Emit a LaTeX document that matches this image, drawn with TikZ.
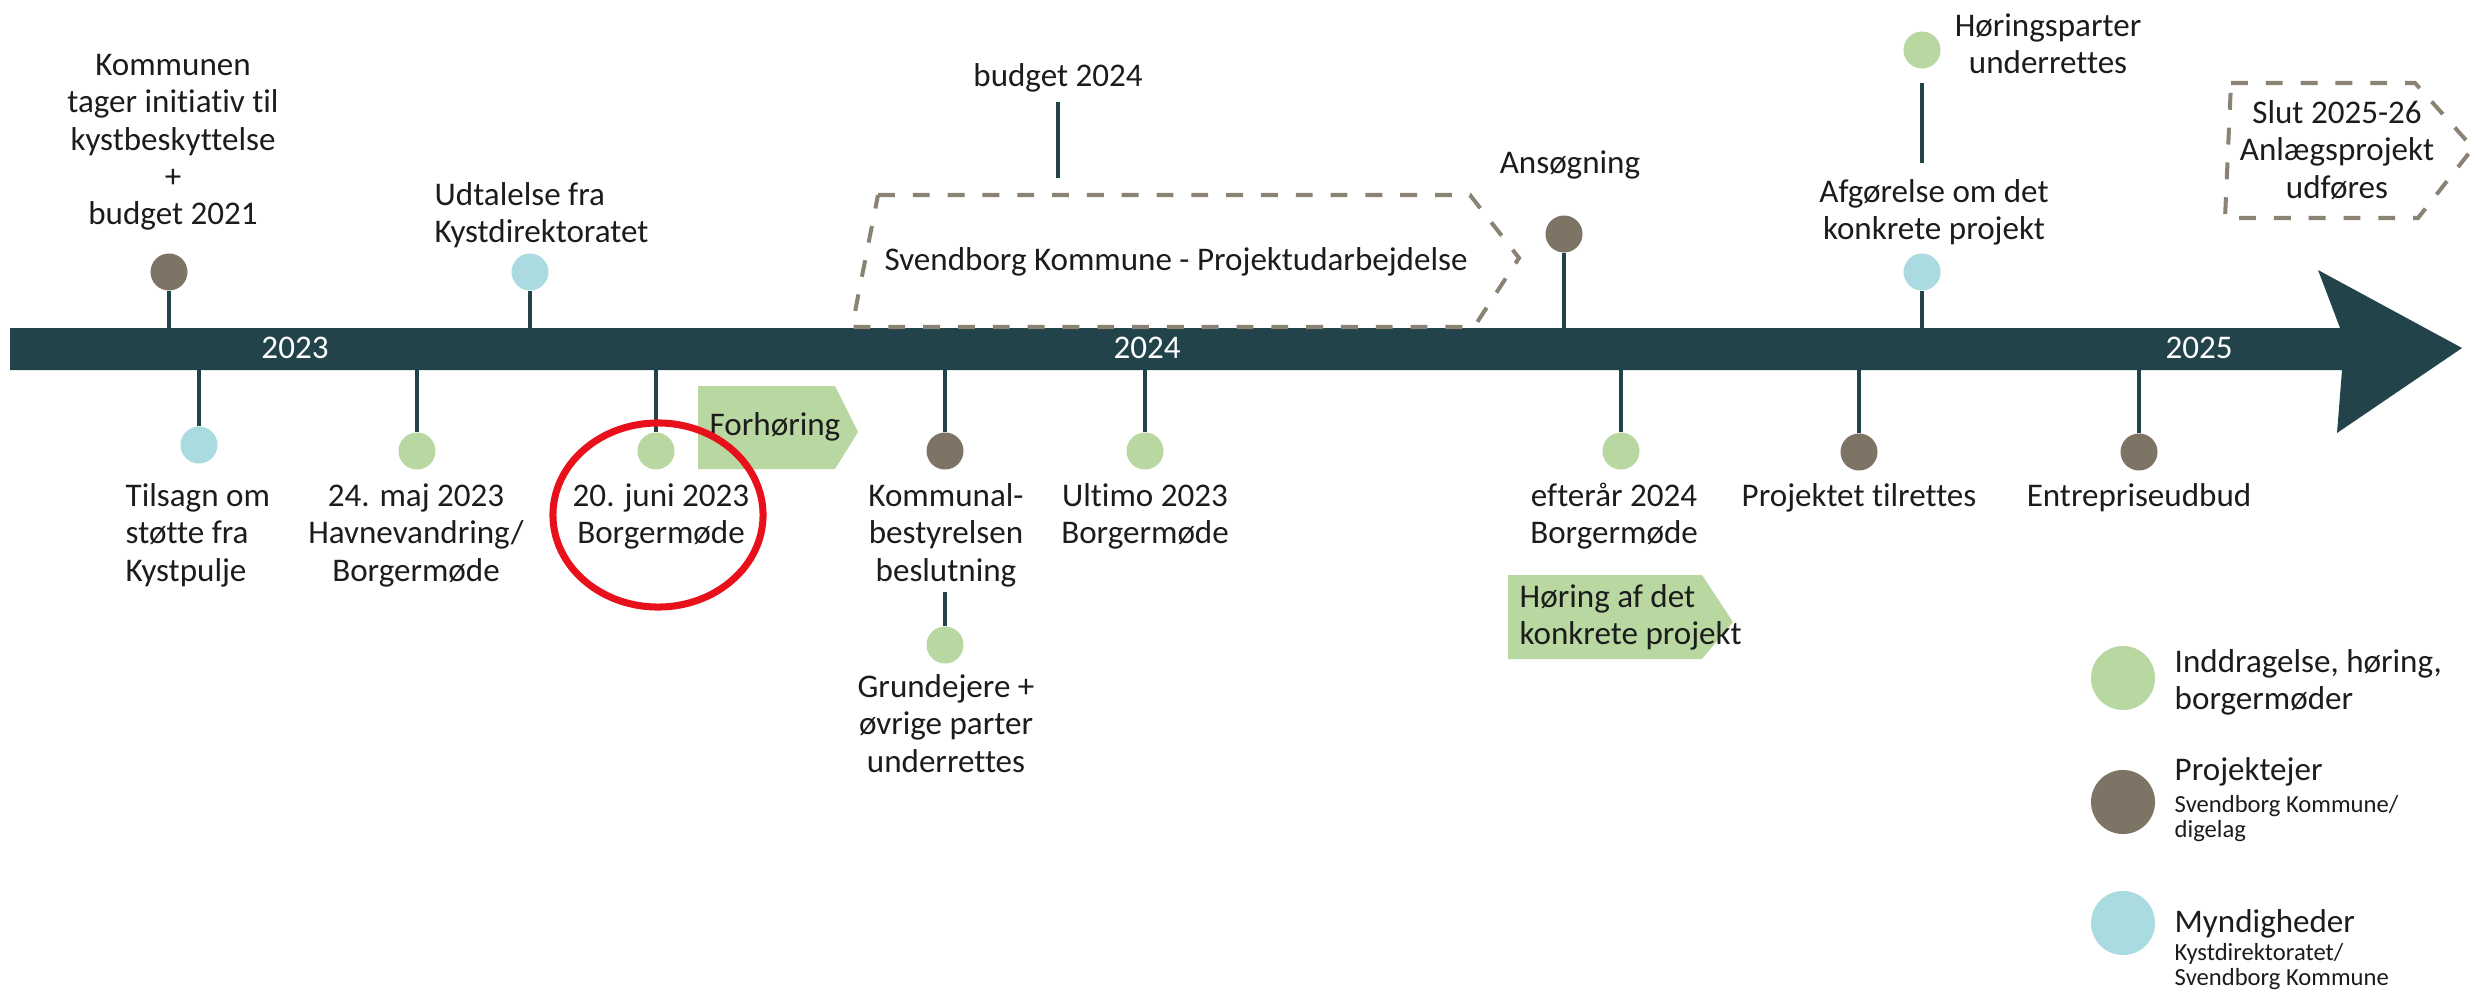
\documentclass[tikz,border=0pt]{standalone}
\usepackage{fontspec}
\setmainfont[Ligatures=NoCommon]{Carlito}
\definecolor{cbar}{HTML}{22434A}
\definecolor{cbrown}{HTML}{7D7466}
\definecolor{cgreen}{HTML}{B9D7A0}
\definecolor{cblue}{HTML}{A9DBE0}
\definecolor{cdash}{HTML}{8A8273}
\definecolor{cred}{HTML}{E8101A}
\definecolor{ctext}{HTML}{1C1C1C}
\newcommand{\mainfnt}{\fontsize{9.4}{10.6}\selectfont\setlength{\lineskiplimit}{-10pt}}
\newcommand{\smallfnt}{\fontsize{7}{7.1}\selectfont\setlength{\lineskiplimit}{-10pt}}
\begin{document}
\begin{tikzpicture}[x=0.01cm,y=-0.01cm,
  lbl/.style={anchor=north, yshift=7.42pt, inner sep=0pt, align=center, text=ctext, font=\mainfnt},
  lbll/.style={lbl, anchor=north west, align=left},
  sublbl/.style={anchor=north west, yshift=4.97pt, inner sep=0pt, align=left, text=ctext, font=\smallfnt},
  dotc/.style={circle, inner sep=0pt, minimum size=0.37cm, draw=none},
  legdot/.style={circle, inner sep=0pt, minimum size=0.64cm, draw=none},
  stem/.style={draw=cbar, line width=1.14pt},
  dashbox/.style={draw=cdash, line width=1.14pt, dash pattern=on 4.8pt off 5.1pt},
  yearlbl/.style={lbl, text=white}
]
\useasboundingbox (0,0) rectangle (2476,994);

% main bar with arrow head
\fill[cbar] (10,328) -- (2340,328) -- (2318,270) -- (2462,348) -- (2337,433) -- (2342,370) -- (10,370) -- cycle;
\node[yearlbl] (y23) at (295,358) {\strut 2023};
\node[yearlbl] (y24) at (1147,358) {\strut 2024};
\node[yearlbl] (y25) at (2199,358) {\strut 2025};

% ---------- above the bar ----------
\node[lbl] (kom) at (173,75) {\strut Kommunen\\tager initiativ til\\kystbeskyttelse\\+\\budget 2021};
\node[dotc, fill=cbrown] (d1) at (169,272) {};
\coordinate (t1) at (169,328);
\draw[stem] (d1) -- (t1);

\node[lbll] (udt) at (434,205) {\strut Udtalelse fra\\Kystdirektoratet};
\node[dotc, fill=cblue] (d2) at (530,272) {};
\coordinate (t2) at (530,328);
\draw[stem] (d2) -- (t2);

\node[lbl] (b24) at (1058,86) {\strut budget 2024};
\coordinate (b24a) at (1058,102);
\coordinate (b24b) at (1058,178);
\draw[stem] (b24a) -- (b24b);

\draw[dashbox] (878,195) -- (1470,195) -- (1519,258) -- (1474,327) -- (852,327) -- cycle;
\node[lbl] (svk) at (1176,270) {\strut Svendborg Kommune - Projektudarbejdelse};

\node[lbl] (ans) at (1570,173) {\strut Ansøgning};
\node[dotc, fill=cbrown] (d3) at (1564,234) {};
\coordinate (t3) at (1564,328);
\draw[stem] (d3) -- (t3);

\node[lbl] (hp) at (2048,36) {\strut Høringsparter\\underrettes};
\node[dotc, fill=cgreen] (d4) at (1922,50) {};
\coordinate (hpa) at (1922,83);
\coordinate (hpb) at (1922,163);
\draw[stem] (hpa) -- (hpb);
\node[lbl] (afg) at (1934,202) {\strut Afgørelse om det\\konkrete projekt};
\node[dotc, fill=cblue] (d5) at (1922,272) {};
\coordinate (t5) at (1922,328);
\draw[stem] (d5) -- (t5);

\draw[dashbox] (2231,83) -- (2415,83) -- (2473,148) -- (2418,218) -- (2225,218) -- cycle;
\node[lbl] (slut) at (2337,123) {\strut Slut 2025-26\\Anlægsprojekt\\udføres};

% ---------- below the bar ----------
\coordinate (s1) at (199,370);
\node[dotc, fill=cblue] (e1) at (199,445) {};
\draw[stem] (s1) -- (e1);
\node[lbll] (til) at (125,506) {\strut Tilsagn om\\støtte fra\\Kystpulje};

\coordinate (s2) at (417,370);
\node[dotc, fill=cgreen] (e2) at (417,451) {};
\draw[stem] (s2) -- (e2);
\node[lbl] (maj) at (416,506) {\strut 24. maj 2023\\Havnevandring/\\Borgermøde};

\coordinate (s3) at (656,370);
\node[dotc, fill=cgreen] (e3) at (656,451) {};
\draw[stem] (s3) -- (e3);
\node[lbl] (jun) at (661,506) {\strut 20. juni 2023\\Borgermøde};

\fill[cgreen] (698,386) -- (835,386) -- (858,432) -- (835,469) -- (698,469) -- cycle;
\node[lbll] (forh) at (709,435) {\strut Forhøring};

\coordinate (s4) at (945,370);
\node[dotc, fill=cbrown] (e4) at (945,451) {};
\draw[stem] (s4) -- (e4);
\node[lbl] (kb) at (946,506) {\strut Kommunal-\\bestyrelsen\\beslutning};
\coordinate (kba) at (945,592);
\node[dotc, fill=cgreen] (e4b) at (945,645) {};
\draw[stem] (kba) -- (e4b);
\node[lbl] (grund) at (946,697) {\strut Grundejere +\\øvrige parter\\underrettes};

\coordinate (s5) at (1145,370);
\node[dotc, fill=cgreen] (e5) at (1145,451) {};
\draw[stem] (s5) -- (e5);
\node[lbl] (ult) at (1145,506) {\strut Ultimo 2023\\Borgermøde};

\coordinate (s6) at (1621,370);
\node[dotc, fill=cgreen] (e6) at (1621,451) {};
\draw[stem] (s6) -- (e6);
\node[lbl] (eft) at (1614,506) {\strut efterår 2024\\Borgermøde};

\fill[cgreen] (1508,575) -- (1702,575) -- (1733,622) -- (1702,659) -- (1508,659) -- cycle;
\node[lbll] (hor) at (1519,607) {\strut Høring af det\\konkrete projekt};

\coordinate (s7) at (1859,370);
\node[dotc, fill=cbrown] (e7) at (1859,452) {};
\draw[stem] (s7) -- (e7);
\node[lbl] (ptil) at (1859,506) {\strut Projektet tilrettes};

\coordinate (s8) at (2139,370);
\node[dotc, fill=cbrown] (e8) at (2139,452) {};
\draw[stem] (s8) -- (e8);
\node[lbl] (ent) at (2139,506) {\strut Entrepriseudbud};

% ---------- legend ----------
\node[legdot, fill=cgreen] (lg1) at (2123,678) {};
\node[lbll] (lt1) at (2174,672) {\strut Inddragelse, høring,\\borgermøder};
\node[legdot, fill=cbrown] (lg2) at (2123,802) {};
\node[lbll] (lt2) at (2174,780) {\strut Projektejer};
\node[sublbl] (ls2) at (2174,812) {\strut Svendborg Kommune/\\digelag};
\node[legdot, fill=cblue] (lg3) at (2123,923) {};
\node[lbll] (lt3) at (2174,932) {\strut Myndigheder};
\node[sublbl] (ls3) at (2174,960) {\strut Kystdirektoratet/\\Svendborg Kommune};

% red highlight ellipse
\draw[cred, line width=2pt] (658,515) ellipse [x radius=1.05cm, y radius=0.92cm];
\end{tikzpicture}
\end{document}
